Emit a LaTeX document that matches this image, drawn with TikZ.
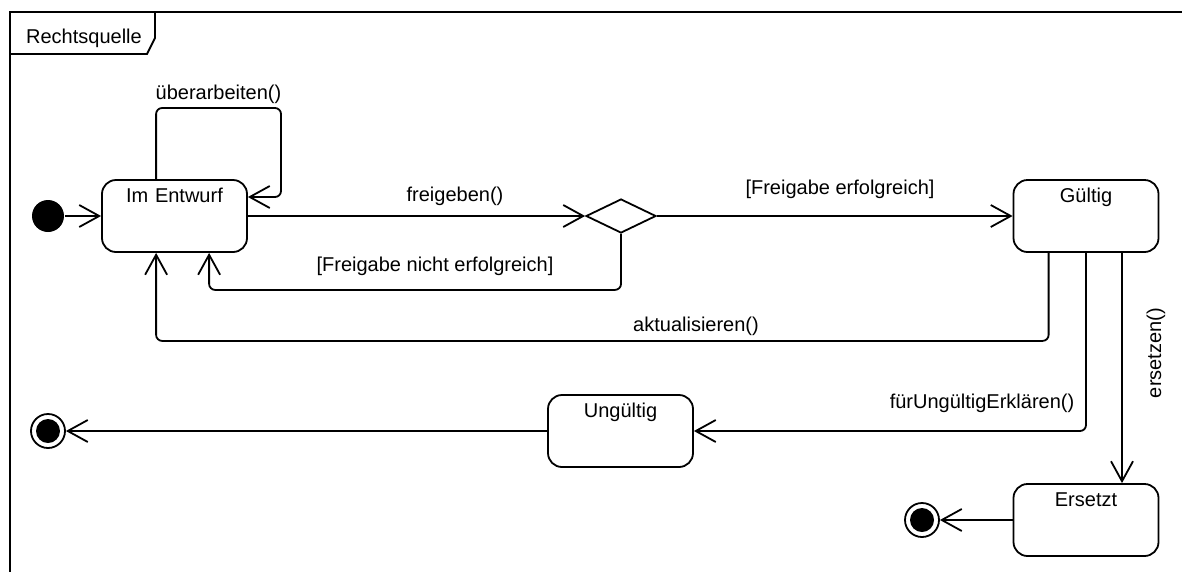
\documentclass[tikz,border=0pt]{standalone}
\usepackage{fontspec}
\setmainfont{Liberation Sans}
\usetikzlibrary{arrows.meta,shapes.geometric,calc}
\begin{document}
\begin{tikzpicture}[x=1pt,y=-1pt,
  line width=1.8pt,
  every node/.style={font=\fontsize{20}{24}\selectfont},
  state/.style={draw, rectangle, rounded corners=14pt, inner sep=0pt,
    text width=145pt, align=center, text height=22pt, text depth=50pt},
  startstate/.style={circle, fill=black, minimum size=32pt, inner sep=0pt},
  endstate/.style={circle, draw, minimum size=34pt, inner sep=0pt,
    path picture={\fill (path picture bounding box.center) circle (12pt);}},
  choice/.style={draw, diamond, aspect=2, minimum width=70pt, minimum height=34pt, inner sep=0pt},
  trans/.style={-{Straight Barb[length=20pt,width=22pt]}},
  elbow/.style={rounded corners=6pt},
  lbl/.style={anchor=base, inner sep=0pt}]

\useasboundingbox (0,0) rectangle (1182,571);

% diagram frame with its name tab
\draw (10,590) -- (10,12) -- (1200,12);
\draw (155,12) -- (155,38) -- (147,54) -- (10,54);
\node[lbl] (frametitle) at (84,43) {Rechtsquelle};

% states
\node[startstate] (init) at (48,216) {};
\node[state] (entwurf) at (174.5,216) {Im Entwurf};
\node[choice] (dec) at (621,216) {};
\node[state] (gueltig) at (1086,216) {Gültig};
\node[state] (ungueltig) at (620.5,431) {Ungültig};
\node[state] (ersetzt) at (1086,520) {Ersetzt};
\node[endstate] (final1) at (48,431) {};
\node[endstate] (final2) at (922,520) {};

% transitions
\draw[trans] (init) -- (entwurf);
\draw[trans, elbow] ($(entwurf.north west)+(55,0)$) |- (281,108) |- ($(entwurf.east)+(0,-19)$);
\draw[trans] (entwurf) -- (dec);
\draw[trans] (dec) -- (gueltig);
\draw[trans, elbow] (dec.south) |- ($(entwurf.south west)+(108,37)$) -- ($(entwurf.south west)+(108,0)$);
\draw[trans, elbow] ($(gueltig.south west)+(36,0)$) |- ($(entwurf.south west)+(55,88)$) -- ($(entwurf.south west)+(55,0)$);
\draw[trans, elbow] (gueltig.south) |- (ungueltig.east);
\draw[trans] ($(gueltig.south)+(36,0)$) -- ($(ersetzt.north)+(36,0)$);
\draw[trans] (ungueltig) -- (final1);
\draw[trans] (ersetzt) -- (final2);

% transition labels
\node[lbl] (l-ueber) at (218.5,99) {überarbeiten()};
\node[lbl] (l-frei) at (455,201) {freigeben()};
\node[lbl] (l-erf) at (840,194) {[Freigabe erfolgreich]};
\node[lbl] (l-nicht) at (435,271) {[Freigabe nicht erfolgreich]};
\node[lbl] (l-akt) at (696,331) {aktualisieren()};
\node[lbl] (l-fuer) at (982,408) {fürUngültigErklären()};
\node[lbl, rotate=90] (l-ers) at (1161,353) {ersetzen()};
\end{tikzpicture}
\end{document}
